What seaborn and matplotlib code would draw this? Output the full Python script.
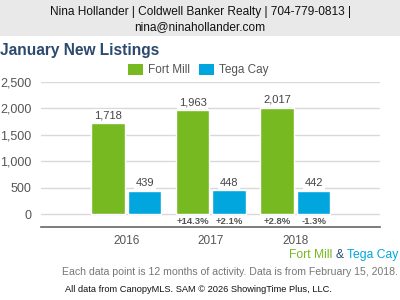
import matplotlib
matplotlib.use("Agg")
import matplotlib.pyplot as plt
import seaborn as sns
import pandas as pd
from matplotlib.patches import Patch, Rectangle

years = ["2016", "2017", "2018"]
fort_mill = [1718, 1963, 2017]
tega_cay = [439, 448, 442]
fort_mill_change = ["", "+14.3%", "+2.8%"]
tega_cay_change = ["", "+2.1%", "-1.3%"]
series = ["Fort Mill", "Tega Cay"]
yticks = [0, 500, 1000, 1500, 2000, 2500]

GREEN = "#77b921"
BLUE = "#00a6dd"
TITLE = "#2c4a6e"
GRAY = "#555555"

sns.set_style("white")
plt.rcParams["font.family"] = ["Liberation Sans", "DejaVu Sans"]

df = pd.DataFrame({
    "year": years * 2,
    "value": fort_mill + tega_cay,
    "area": [series[0]] * 3 + [series[1]] * 3,
})

fig = plt.figure(figsize=(4, 3), dpi=100)
# header band
fig.patches.append(Rectangle((0, 1 - 36 / 300), 1, 36 / 300, transform=fig.transFigure,
                             facecolor="#e9e9e9", edgecolor="none", zorder=0))
fig.text(0.5, 1 - 12 / 300, "Nina Hollander | Coldwell Banker Realty | 704-779-0813 |",
         ha="center", va="center", fontsize=8.6, color="#111111")
fig.text(0.5, 1 - 27 / 300, "nina@ninahollander.com",
         ha="center", va="center", fontsize=8.6, color="#111111")
fig.text(0.0, 1 - 51 / 300, "January New Listings", ha="left", va="center",
         fontsize=11.2, fontweight="bold", color=TITLE)

ax = fig.add_axes([41 / 400, 1 - 227 / 300, (380 - 41) / 400, 145 / 300])
sns.barplot(data=df, x="year", y="value", hue="area", order=years, hue_order=series,
            palette=[GREEN, BLUE], width=0.864, gap=0.082, ax=ax, legend=False,
            saturation=1, zorder=3)

ax.set_ylim(-246, 2500)
ax.set_xlim(-1.01, 3.0)
ax.set_yticks(yticks)
ax.set_yticklabels([f"{v:,}" for v in yticks], fontsize=9, color=GRAY)
ax.tick_params(axis="y", length=0, pad=7)
ax.tick_params(axis="x", length=0, pad=6, labelsize=8.5, labelcolor=GRAY)
ax.set_xlabel("")
ax.set_ylabel("")
ax.yaxis.grid(True, color="#d9d9d9", linewidth=1, zorder=0)
ax.set_axisbelow(True)
for s in ["left", "right", "top"]:
    ax.spines[s].set_visible(False)
ax.spines["bottom"].set_color("#666666")
ax.spines["bottom"].set_linewidth(1.2)

changes = [fort_mill_change, tega_cay_change]
for cont, labels in zip(ax.containers, changes):
    ax.bar_label(cont, labels=[f"{int(b.get_height()):,}" for b in cont], padding=2,
                 fontsize=8, color="#444444",
                 bbox=dict(facecolor="white", edgecolor="none", pad=1.2))
    for bar, lab in zip(cont, labels):
        if lab:
            ax.text(bar.get_x() + bar.get_width() / 2, -140, lab, ha="center", va="center",
                    fontsize=6.8, fontweight="bold", color=GRAY)

handles = [Patch(facecolor=GREEN, edgecolor="none"), Patch(facecolor=BLUE, edgecolor="none")]
fig.legend(handles, series, loc="center left", bbox_to_anchor=(117 / 400, 1 - 70 / 300),
           ncol=2, frameon=False, fontsize=8.5, handlelength=1.3, handleheight=1.1,
           handletextpad=0.4, columnspacing=0.8, labelcolor=GRAY)

# bottom labels
fs = 8.7
t1 = fig.text(0.995, 1 - 255 / 300, "Tega Cay", ha="right", va="center", fontsize=fs, color=BLUE)
fig.canvas.draw()
r = fig.canvas.get_renderer()
bb = t1.get_window_extent(r)
t2 = fig.text(bb.x0 / 400 - 0.008, 1 - 255 / 300, "&", ha="right", va="center", fontsize=fs, color=TITLE)
bb2 = t2.get_window_extent(r)
fig.text(bb2.x0 / 400 - 0.008, 1 - 255 / 300, "Fort Mill", ha="right", va="center", fontsize=fs, color=GREEN)

fig.text(0.995, 1 - 272 / 300, "Each data point is 12 months of activity. Data is from February 15, 2018.",
         ha="right", va="center", fontsize=7.55, color="#777777")
fig.text(65 / 400, 1 - 290 / 300, "All data from CanopyMLS. SAM \u00a9 2026 ShowingTime Plus, LLC.",
         ha="left", va="center", fontsize=6.7, color="#111111")

fig.savefig("out.png", dpi=100)
